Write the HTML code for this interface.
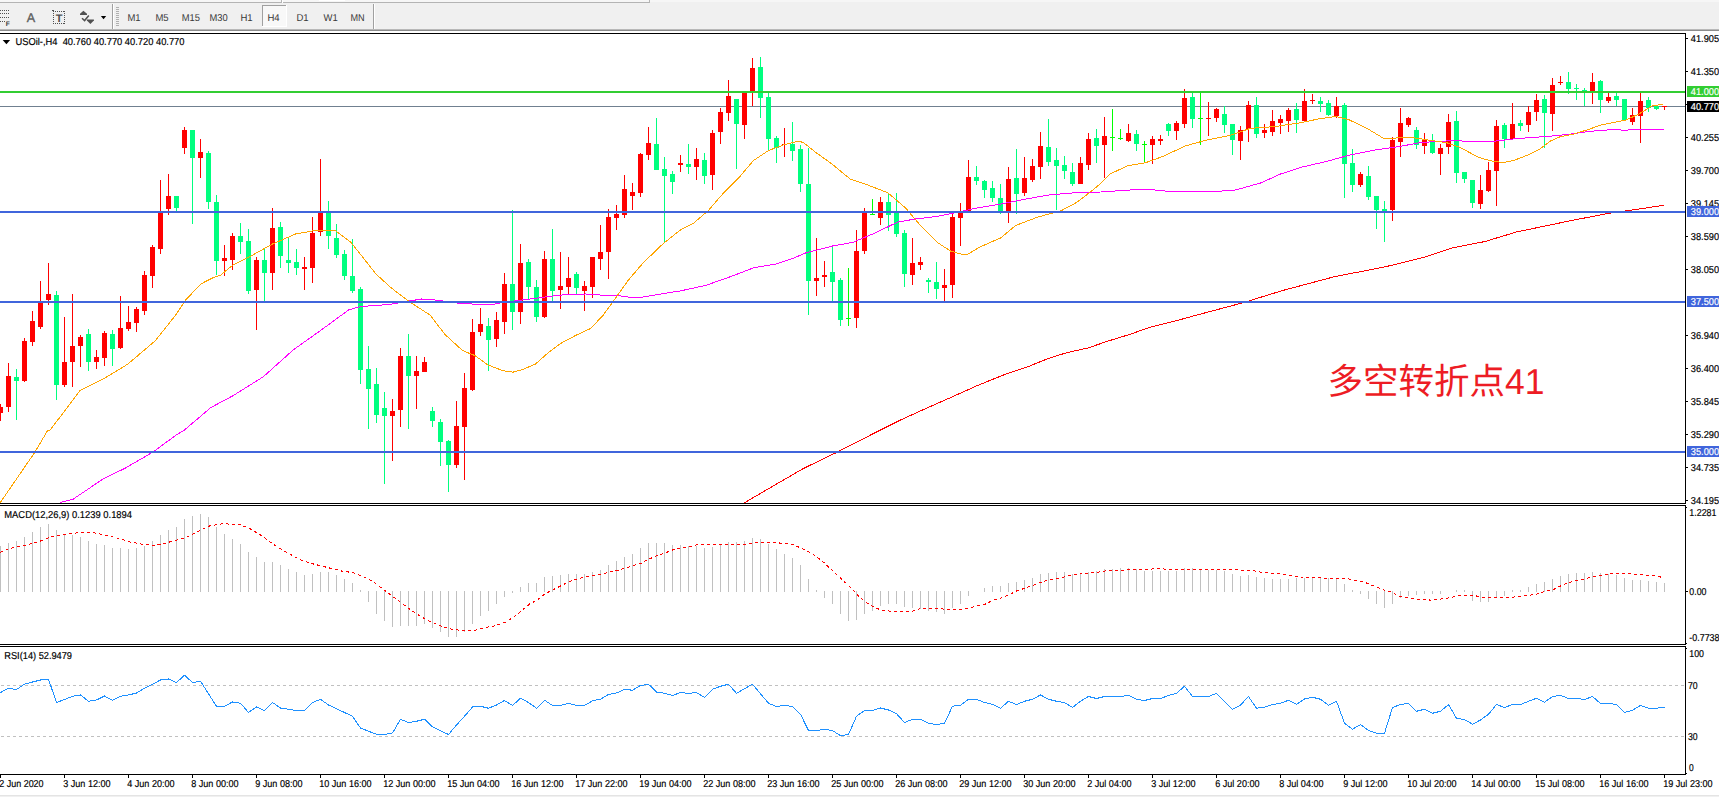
<!DOCTYPE html>
<html><head><meta charset="utf-8"><title>USOil H4</title>
<style>html,body{margin:0;padding:0;background:#fff;overflow:hidden}svg{display:block}</style></head>
<body>
<svg width="1719" height="797" viewBox="0 0 1719 797" font-family='"Liberation Sans","Noto Sans CJK SC",sans-serif' shape-rendering="crispEdges" text-rendering="geometricPrecision">
<rect x="0" y="0" width="1719" height="797" fill="#fff"/>
<rect x="0" y="0" width="1719" height="31" fill="#f0f0f0"/>
<rect x="0" y="0" width="1719" height="2" fill="#f6f6f6"/>
<rect x="0" y="2" width="650" height="1" fill="#b4b4b4"/>
<rect x="281" y="0" width="1" height="3" fill="#b4b4b4"/>
<rect x="282" y="0" width="1" height="3" fill="#fff"/>
<rect x="649" y="0" width="1" height="3" fill="#b4b4b4"/>
<rect x="319" y="0" width="26" height="1" fill="#fff"/>
<rect x="0" y="29" width="1719" height="1" fill="#b8b8b8"/>
<rect x="0" y="30" width="1719" height="1" fill="#8c8c8c"/>
<rect x="0" y="31" width="1719" height="2" fill="#fff"/>
<g id="tb-icons" shape-rendering="auto">
</g>
<rect x="0" y="10" width="1" height="1" fill="#505050"/>
<rect x="2" y="10" width="1" height="1" fill="#505050"/>
<rect x="4" y="10" width="1" height="1" fill="#505050"/>
<rect x="6" y="10" width="1" height="1" fill="#505050"/>
<rect x="8" y="10" width="1" height="1" fill="#505050"/>
<rect x="0" y="13" width="1" height="1" fill="#505050"/>
<rect x="2" y="13" width="1" height="1" fill="#505050"/>
<rect x="4" y="13" width="1" height="1" fill="#505050"/>
<rect x="6" y="13" width="1" height="1" fill="#505050"/>
<rect x="8" y="13" width="1" height="1" fill="#505050"/>
<rect x="0" y="17" width="1" height="1" fill="#505050"/>
<rect x="2" y="17" width="1" height="1" fill="#505050"/>
<rect x="4" y="17" width="1" height="1" fill="#505050"/>
<rect x="6" y="17" width="1" height="1" fill="#505050"/>
<rect x="8" y="17" width="1" height="1" fill="#505050"/>
<rect x="0" y="21" width="1" height="1" fill="#505050"/>
<rect x="2" y="21" width="1" height="1" fill="#505050"/>
<rect x="4" y="21" width="1" height="1" fill="#505050"/>
<rect x="53" y="11" width="1" height="1" fill="#505050"/>
<rect x="53" y="23" width="1" height="1" fill="#505050"/>
<rect x="55" y="11" width="1" height="1" fill="#505050"/>
<rect x="55" y="23" width="1" height="1" fill="#505050"/>
<rect x="57" y="11" width="1" height="1" fill="#505050"/>
<rect x="57" y="23" width="1" height="1" fill="#505050"/>
<rect x="59" y="11" width="1" height="1" fill="#505050"/>
<rect x="59" y="23" width="1" height="1" fill="#505050"/>
<rect x="61" y="11" width="1" height="1" fill="#505050"/>
<rect x="61" y="23" width="1" height="1" fill="#505050"/>
<rect x="63" y="11" width="1" height="1" fill="#505050"/>
<rect x="63" y="23" width="1" height="1" fill="#505050"/>
<rect x="53" y="11" width="1" height="1" fill="#505050"/>
<rect x="64" y="11" width="1" height="1" fill="#505050"/>
<rect x="53" y="13" width="1" height="1" fill="#505050"/>
<rect x="64" y="13" width="1" height="1" fill="#505050"/>
<rect x="53" y="15" width="1" height="1" fill="#505050"/>
<rect x="64" y="15" width="1" height="1" fill="#505050"/>
<rect x="53" y="17" width="1" height="1" fill="#505050"/>
<rect x="64" y="17" width="1" height="1" fill="#505050"/>
<rect x="53" y="19" width="1" height="1" fill="#505050"/>
<rect x="64" y="19" width="1" height="1" fill="#505050"/>
<rect x="53" y="21" width="1" height="1" fill="#505050"/>
<rect x="64" y="21" width="1" height="1" fill="#505050"/>
<rect x="53" y="23" width="1" height="1" fill="#505050"/>
<rect x="64" y="23" width="1" height="1" fill="#505050"/>
<rect x="52" y="10" width="2" height="1" fill="#505050"/>
<g shape-rendering="auto">
<text x="5.7" y="25.9" font-size="6.6" fill="#404040" text-anchor="start" font-weight="bold">F</text>
<text x="26.7" y="22" font-size="12.6" fill="#606060" text-anchor="start" stroke="#606060" stroke-width="0.35">A</text>
<text x="59" y="22" font-size="11" fill="#505050" text-anchor="middle" font-weight="bold">T</text>
<path d="M83.4 10.7 L87 13.8 L87 15 L80 15 L80 13.8 Z" fill="#505050"/>
<path d="M82 18.2 L84.6 20.6 L88.8 15.5" fill="none" stroke="#505050" stroke-width="1.5"/>
<path d="M86.9 19.6 L93.9 19.6 L93.9 20.6 L90.4 24.1 L86.9 20.6 Z" fill="#505050"/>
<path d="M100.9 16.1 L106.2 16.1 L103.55 19.2 Z" fill="#000"/>
</g>
<rect x="112" y="4" width="1" height="25" fill="#a0a0a0"/>
<rect x="113" y="4" width="1" height="25" fill="#fff"/>
<rect x="116" y="7" width="3" height="1" fill="#b0b0b0"/>
<rect x="116" y="9" width="3" height="1" fill="#b0b0b0"/>
<rect x="116" y="11" width="3" height="1" fill="#b0b0b0"/>
<rect x="116" y="13" width="3" height="1" fill="#b0b0b0"/>
<rect x="116" y="15" width="3" height="1" fill="#b0b0b0"/>
<rect x="116" y="17" width="3" height="1" fill="#b0b0b0"/>
<rect x="116" y="19" width="3" height="1" fill="#b0b0b0"/>
<rect x="116" y="21" width="3" height="1" fill="#b0b0b0"/>
<rect x="116" y="23" width="3" height="1" fill="#b0b0b0"/>
<rect x="116" y="25" width="3" height="1" fill="#b0b0b0"/>
<rect x="262" y="5" width="25" height="22" fill="#f8f8f8"/>
<rect x="262" y="5" width="25" height="1" fill="#a0a0a0"/>
<rect x="262" y="5" width="1" height="22" fill="#a0a0a0"/>
<rect x="286" y="5" width="1" height="22" fill="#fff"/>
<rect x="262" y="26" width="25" height="1" fill="#fff"/>
<g shape-rendering="auto">
<text x="127.4" y="21" font-size="10" fill="#383838" text-anchor="start" textLength="13.2" lengthAdjust="spacingAndGlyphs" xml:space="preserve" stroke="#383838" stroke-width="0">M1</text>
<text x="155.4" y="21" font-size="10" fill="#383838" text-anchor="start" textLength="13.2" lengthAdjust="spacingAndGlyphs" xml:space="preserve" stroke="#383838" stroke-width="0">M5</text>
<text x="181.8" y="21" font-size="10" fill="#383838" text-anchor="start" textLength="18.2" lengthAdjust="spacingAndGlyphs" xml:space="preserve" stroke="#383838" stroke-width="0">M15</text>
<text x="209.4" y="21" font-size="10" fill="#383838" text-anchor="start" textLength="18.2" lengthAdjust="spacingAndGlyphs" xml:space="preserve" stroke="#383838" stroke-width="0">M30</text>
<text x="240.4" y="21" font-size="10" fill="#383838" text-anchor="start" textLength="12.2" lengthAdjust="spacingAndGlyphs" xml:space="preserve" stroke="#383838" stroke-width="0">H1</text>
<text x="267.4" y="21" font-size="10" fill="#383838" text-anchor="start" textLength="12.2" lengthAdjust="spacingAndGlyphs" xml:space="preserve" stroke="#383838" stroke-width="0">H4</text>
<text x="296.4" y="21" font-size="10" fill="#383838" text-anchor="start" textLength="12.2" lengthAdjust="spacingAndGlyphs" xml:space="preserve" stroke="#383838" stroke-width="0">D1</text>
<text x="323.6" y="21" font-size="10" fill="#383838" text-anchor="start" textLength="14.2" lengthAdjust="spacingAndGlyphs" xml:space="preserve" stroke="#383838" stroke-width="0">W1</text>
<text x="350.4" y="21" font-size="10" fill="#383838" text-anchor="start" textLength="14.2" lengthAdjust="spacingAndGlyphs" xml:space="preserve" stroke="#383838" stroke-width="0">MN</text>
</g>
<rect x="373" y="4" width="1" height="25" fill="#a0a0a0"/>
<rect x="374" y="4" width="1" height="25" fill="#fff"/>
<rect x="0" y="33" width="1686" height="1" fill="#000"/>
<rect x="1685" y="33" width="1" height="471" fill="#000"/>
<rect x="1685" y="505" width="1" height="140" fill="#000"/>
<rect x="1685" y="646" width="1" height="129" fill="#000"/>
<rect x="0" y="503" width="1686" height="1" fill="#000"/>
<rect x="0" y="505" width="1686" height="1" fill="#000"/>
<rect x="0" y="644" width="1686" height="1" fill="#000"/>
<rect x="0" y="646" width="1686" height="1" fill="#000"/>
<rect x="1686" y="507" width="1" height="1" fill="#000"/>
<rect x="1686" y="648" width="1" height="1" fill="#000"/>
<rect x="1686" y="643" width="1" height="1" fill="#000"/>
<rect x="0" y="774" width="1686" height="1" fill="#000"/>
<rect x="0" y="795" width="1719" height="1" fill="#e4e4e4"/>
<rect x="0" y="796" width="1719" height="1" fill="#f0f0f0"/>
<rect x="0" y="106" width="1685" height="1" fill="#708090"/>
<g id="candles">
<rect x="0" y="404" width="1" height="17" fill="#ff0000"/>
<rect x="-2" y="407" width="5" height="6" fill="#ff0000"/>
<rect x="8" y="363" width="1" height="49" fill="#ff0000"/>
<rect x="6" y="376" width="5" height="31" fill="#ff0000"/>
<rect x="16" y="369" width="1" height="51" fill="#00ff7f"/>
<rect x="14" y="377" width="5" height="4" fill="#00ff7f"/>
<rect x="24" y="338" width="1" height="44" fill="#ff0000"/>
<rect x="22" y="341" width="5" height="40" fill="#ff0000"/>
<rect x="32" y="311" width="1" height="35" fill="#ff0000"/>
<rect x="30" y="321" width="5" height="21" fill="#ff0000"/>
<rect x="40" y="281" width="1" height="48" fill="#ff0000"/>
<rect x="38" y="303" width="5" height="24" fill="#ff0000"/>
<rect x="48" y="263" width="1" height="42" fill="#ff0000"/>
<rect x="46" y="294" width="5" height="6" fill="#ff0000"/>
<rect x="56" y="291" width="1" height="109" fill="#00ff7f"/>
<rect x="54" y="295" width="5" height="90" fill="#00ff7f"/>
<rect x="64" y="317" width="1" height="70" fill="#ff0000"/>
<rect x="62" y="362" width="5" height="23" fill="#ff0000"/>
<rect x="72" y="294" width="1" height="93" fill="#ff0000"/>
<rect x="70" y="346" width="5" height="16" fill="#ff0000"/>
<rect x="80" y="335" width="1" height="32" fill="#ff0000"/>
<rect x="78" y="337" width="5" height="9" fill="#ff0000"/>
<rect x="88" y="329" width="1" height="42" fill="#00ff7f"/>
<rect x="86" y="334" width="5" height="28" fill="#00ff7f"/>
<rect x="96" y="350" width="1" height="19" fill="#ff0000"/>
<rect x="94" y="357" width="5" height="5" fill="#ff0000"/>
<rect x="104" y="331" width="1" height="35" fill="#ff0000"/>
<rect x="102" y="333" width="5" height="25" fill="#ff0000"/>
<rect x="112" y="330" width="1" height="36" fill="#00ff7f"/>
<rect x="110" y="334" width="5" height="15" fill="#00ff7f"/>
<rect x="120" y="296" width="1" height="53" fill="#ff0000"/>
<rect x="118" y="328" width="5" height="20" fill="#ff0000"/>
<rect x="128" y="306" width="1" height="25" fill="#ff0000"/>
<rect x="126" y="322" width="5" height="7" fill="#ff0000"/>
<rect x="136" y="307" width="1" height="25" fill="#ff0000"/>
<rect x="134" y="309" width="5" height="14" fill="#ff0000"/>
<rect x="144" y="271" width="1" height="44" fill="#ff0000"/>
<rect x="142" y="275" width="5" height="36" fill="#ff0000"/>
<rect x="152" y="245" width="1" height="43" fill="#ff0000"/>
<rect x="150" y="247" width="5" height="29" fill="#ff0000"/>
<rect x="160" y="180" width="1" height="74" fill="#ff0000"/>
<rect x="158" y="212" width="5" height="37" fill="#ff0000"/>
<rect x="168" y="174" width="1" height="41" fill="#ff0000"/>
<rect x="166" y="196" width="5" height="13" fill="#ff0000"/>
<rect x="176" y="196" width="1" height="15" fill="#00ff7f"/>
<rect x="174" y="196" width="5" height="12" fill="#00ff7f"/>
<rect x="184" y="127" width="1" height="27" fill="#ff0000"/>
<rect x="182" y="130" width="5" height="18" fill="#ff0000"/>
<rect x="192" y="130" width="1" height="94" fill="#00ff7f"/>
<rect x="190" y="130" width="5" height="28" fill="#00ff7f"/>
<rect x="200" y="139" width="1" height="39" fill="#ff0000"/>
<rect x="198" y="152" width="5" height="6" fill="#ff0000"/>
<rect x="208" y="151" width="1" height="58" fill="#00ff7f"/>
<rect x="206" y="153" width="5" height="49" fill="#00ff7f"/>
<rect x="216" y="195" width="1" height="80" fill="#00ff7f"/>
<rect x="214" y="202" width="5" height="59" fill="#00ff7f"/>
<rect x="224" y="245" width="1" height="31" fill="#ff0000"/>
<rect x="222" y="258" width="5" height="3" fill="#ff0000"/>
<rect x="232" y="233" width="1" height="37" fill="#ff0000"/>
<rect x="230" y="236" width="5" height="24" fill="#ff0000"/>
<rect x="240" y="223" width="1" height="31" fill="#00ff7f"/>
<rect x="238" y="236" width="5" height="6" fill="#00ff7f"/>
<rect x="248" y="229" width="1" height="65" fill="#00ff7f"/>
<rect x="246" y="241" width="5" height="50" fill="#00ff7f"/>
<rect x="256" y="257" width="1" height="73" fill="#ff0000"/>
<rect x="254" y="260" width="5" height="30" fill="#ff0000"/>
<rect x="264" y="249" width="1" height="52" fill="#00ff7f"/>
<rect x="262" y="260" width="5" height="13" fill="#00ff7f"/>
<rect x="272" y="208" width="1" height="82" fill="#ff0000"/>
<rect x="270" y="228" width="5" height="45" fill="#ff0000"/>
<rect x="280" y="222" width="1" height="46" fill="#00ff7f"/>
<rect x="278" y="227" width="5" height="29" fill="#00ff7f"/>
<rect x="288" y="238" width="1" height="35" fill="#00ff7f"/>
<rect x="286" y="260" width="5" height="3" fill="#00ff7f"/>
<rect x="296" y="249" width="1" height="26" fill="#00ff7f"/>
<rect x="294" y="262" width="5" height="6" fill="#00ff7f"/>
<rect x="304" y="257" width="1" height="33" fill="#ff0000"/>
<rect x="302" y="267" width="5" height="2" fill="#ff0000"/>
<rect x="312" y="217" width="1" height="66" fill="#ff0000"/>
<rect x="310" y="233" width="5" height="35" fill="#ff0000"/>
<rect x="320" y="159" width="1" height="77" fill="#ff0000"/>
<rect x="318" y="213" width="5" height="19" fill="#ff0000"/>
<rect x="328" y="201" width="1" height="48" fill="#00ff7f"/>
<rect x="326" y="212" width="5" height="24" fill="#00ff7f"/>
<rect x="336" y="224" width="1" height="34" fill="#00ff7f"/>
<rect x="334" y="238" width="5" height="17" fill="#00ff7f"/>
<rect x="344" y="250" width="1" height="30" fill="#00ff7f"/>
<rect x="342" y="254" width="5" height="22" fill="#00ff7f"/>
<rect x="352" y="239" width="1" height="54" fill="#00ff7f"/>
<rect x="350" y="276" width="5" height="15" fill="#00ff7f"/>
<rect x="360" y="287" width="1" height="97" fill="#00ff7f"/>
<rect x="358" y="289" width="5" height="81" fill="#00ff7f"/>
<rect x="368" y="346" width="1" height="83" fill="#00ff7f"/>
<rect x="366" y="369" width="5" height="20" fill="#00ff7f"/>
<rect x="376" y="368" width="1" height="55" fill="#00ff7f"/>
<rect x="374" y="384" width="5" height="31" fill="#00ff7f"/>
<rect x="384" y="392" width="1" height="92" fill="#00ff7f"/>
<rect x="382" y="408" width="5" height="8" fill="#00ff7f"/>
<rect x="392" y="399" width="1" height="62" fill="#ff0000"/>
<rect x="390" y="411" width="5" height="5" fill="#ff0000"/>
<rect x="400" y="348" width="1" height="79" fill="#ff0000"/>
<rect x="398" y="356" width="5" height="54" fill="#ff0000"/>
<rect x="408" y="334" width="1" height="95" fill="#00ff7f"/>
<rect x="406" y="356" width="5" height="20" fill="#00ff7f"/>
<rect x="416" y="356" width="1" height="53" fill="#ff0000"/>
<rect x="414" y="371" width="5" height="5" fill="#ff0000"/>
<rect x="424" y="357" width="1" height="15" fill="#ff0000"/>
<rect x="422" y="362" width="5" height="10" fill="#ff0000"/>
<rect x="432" y="407" width="1" height="20" fill="#00ff7f"/>
<rect x="430" y="411" width="5" height="10" fill="#00ff7f"/>
<rect x="440" y="419" width="1" height="47" fill="#00ff7f"/>
<rect x="438" y="422" width="5" height="20" fill="#00ff7f"/>
<rect x="448" y="440" width="1" height="52" fill="#00ff7f"/>
<rect x="446" y="441" width="5" height="24" fill="#00ff7f"/>
<rect x="456" y="401" width="1" height="67" fill="#ff0000"/>
<rect x="454" y="426" width="5" height="39" fill="#ff0000"/>
<rect x="464" y="373" width="1" height="107" fill="#ff0000"/>
<rect x="462" y="388" width="5" height="39" fill="#ff0000"/>
<rect x="472" y="319" width="1" height="72" fill="#ff0000"/>
<rect x="470" y="332" width="5" height="58" fill="#ff0000"/>
<rect x="480" y="308" width="1" height="28" fill="#ff0000"/>
<rect x="478" y="324" width="5" height="8" fill="#ff0000"/>
<rect x="488" y="318" width="1" height="53" fill="#00ff7f"/>
<rect x="486" y="326" width="5" height="14" fill="#00ff7f"/>
<rect x="496" y="312" width="1" height="35" fill="#ff0000"/>
<rect x="494" y="320" width="5" height="19" fill="#ff0000"/>
<rect x="504" y="273" width="1" height="61" fill="#ff0000"/>
<rect x="502" y="284" width="5" height="38" fill="#ff0000"/>
<rect x="512" y="210" width="1" height="120" fill="#00ff7f"/>
<rect x="510" y="284" width="5" height="28" fill="#00ff7f"/>
<rect x="520" y="244" width="1" height="80" fill="#ff0000"/>
<rect x="518" y="263" width="5" height="49" fill="#ff0000"/>
<rect x="528" y="259" width="1" height="41" fill="#00ff7f"/>
<rect x="526" y="262" width="5" height="25" fill="#00ff7f"/>
<rect x="536" y="280" width="1" height="42" fill="#00ff7f"/>
<rect x="534" y="287" width="5" height="30" fill="#00ff7f"/>
<rect x="544" y="251" width="1" height="67" fill="#ff0000"/>
<rect x="542" y="259" width="5" height="58" fill="#ff0000"/>
<rect x="552" y="229" width="1" height="72" fill="#00ff7f"/>
<rect x="550" y="259" width="5" height="32" fill="#00ff7f"/>
<rect x="560" y="252" width="1" height="57" fill="#ff0000"/>
<rect x="558" y="286" width="5" height="4" fill="#ff0000"/>
<rect x="568" y="257" width="1" height="37" fill="#ff0000"/>
<rect x="566" y="278" width="5" height="9" fill="#ff0000"/>
<rect x="576" y="272" width="1" height="22" fill="#00ff7f"/>
<rect x="574" y="274" width="5" height="14" fill="#00ff7f"/>
<rect x="584" y="281" width="1" height="30" fill="#ff0000"/>
<rect x="582" y="286" width="5" height="5" fill="#ff0000"/>
<rect x="592" y="257" width="1" height="41" fill="#ff0000"/>
<rect x="590" y="257" width="5" height="30" fill="#ff0000"/>
<rect x="600" y="225" width="1" height="45" fill="#ff0000"/>
<rect x="598" y="252" width="5" height="7" fill="#ff0000"/>
<rect x="608" y="209" width="1" height="70" fill="#ff0000"/>
<rect x="606" y="217" width="5" height="35" fill="#ff0000"/>
<rect x="616" y="205" width="1" height="25" fill="#ff0000"/>
<rect x="614" y="214" width="5" height="4" fill="#ff0000"/>
<rect x="624" y="175" width="1" height="43" fill="#ff0000"/>
<rect x="622" y="189" width="5" height="26" fill="#ff0000"/>
<rect x="632" y="183" width="1" height="27" fill="#ff0000"/>
<rect x="630" y="192" width="5" height="4" fill="#ff0000"/>
<rect x="640" y="153" width="1" height="44" fill="#ff0000"/>
<rect x="638" y="154" width="5" height="39" fill="#ff0000"/>
<rect x="648" y="127" width="1" height="33" fill="#ff0000"/>
<rect x="646" y="143" width="5" height="12" fill="#ff0000"/>
<rect x="656" y="118" width="1" height="52" fill="#00ff7f"/>
<rect x="654" y="144" width="5" height="26" fill="#00ff7f"/>
<rect x="664" y="157" width="1" height="85" fill="#00ff7f"/>
<rect x="662" y="169" width="5" height="7" fill="#00ff7f"/>
<rect x="672" y="171" width="1" height="23" fill="#00ff7f"/>
<rect x="670" y="174" width="5" height="8" fill="#00ff7f"/>
<rect x="680" y="155" width="1" height="17" fill="#ff0000"/>
<rect x="678" y="163" width="5" height="2" fill="#ff0000"/>
<rect x="688" y="144" width="1" height="30" fill="#00ff7f"/>
<rect x="686" y="164" width="5" height="3" fill="#00ff7f"/>
<rect x="696" y="148" width="1" height="32" fill="#ff0000"/>
<rect x="694" y="159" width="5" height="8" fill="#ff0000"/>
<rect x="704" y="153" width="1" height="31" fill="#00ff7f"/>
<rect x="702" y="160" width="5" height="16" fill="#00ff7f"/>
<rect x="712" y="130" width="1" height="60" fill="#ff0000"/>
<rect x="710" y="133" width="5" height="42" fill="#ff0000"/>
<rect x="720" y="108" width="1" height="36" fill="#ff0000"/>
<rect x="718" y="112" width="5" height="20" fill="#ff0000"/>
<rect x="728" y="80" width="1" height="41" fill="#ff0000"/>
<rect x="726" y="96" width="5" height="17" fill="#ff0000"/>
<rect x="736" y="99" width="1" height="70" fill="#00ff7f"/>
<rect x="734" y="99" width="5" height="25" fill="#00ff7f"/>
<rect x="744" y="92" width="1" height="47" fill="#ff0000"/>
<rect x="742" y="93" width="5" height="32" fill="#ff0000"/>
<rect x="752" y="58" width="1" height="48" fill="#ff0000"/>
<rect x="750" y="68" width="5" height="23" fill="#ff0000"/>
<rect x="760" y="57" width="1" height="61" fill="#00ff7f"/>
<rect x="758" y="67" width="5" height="31" fill="#00ff7f"/>
<rect x="768" y="93" width="1" height="57" fill="#00ff7f"/>
<rect x="766" y="97" width="5" height="42" fill="#00ff7f"/>
<rect x="776" y="136" width="1" height="27" fill="#00ff7f"/>
<rect x="774" y="138" width="5" height="10" fill="#00ff7f"/>
<rect x="784" y="128" width="1" height="29" fill="#ff0000"/>
<rect x="782" y="144" width="5" height="1" fill="#ff0000"/>
<rect x="792" y="122" width="1" height="39" fill="#00ff7f"/>
<rect x="790" y="144" width="5" height="7" fill="#00ff7f"/>
<rect x="800" y="145" width="1" height="47" fill="#00ff7f"/>
<rect x="798" y="149" width="5" height="35" fill="#00ff7f"/>
<rect x="808" y="148" width="1" height="167" fill="#00ff7f"/>
<rect x="806" y="184" width="5" height="97" fill="#00ff7f"/>
<rect x="816" y="238" width="1" height="58" fill="#ff0000"/>
<rect x="814" y="278" width="5" height="3" fill="#ff0000"/>
<rect x="824" y="261" width="1" height="26" fill="#ff0000"/>
<rect x="822" y="275" width="5" height="2" fill="#ff0000"/>
<rect x="832" y="247" width="1" height="56" fill="#00ff7f"/>
<rect x="830" y="272" width="5" height="10" fill="#00ff7f"/>
<rect x="840" y="278" width="1" height="48" fill="#00ff7f"/>
<rect x="838" y="280" width="5" height="40" fill="#00ff7f"/>
<rect x="848" y="268" width="1" height="58" fill="#00ff00"/>
<rect x="846" y="318" width="5" height="1" fill="#00ff00"/>
<rect x="856" y="230" width="1" height="98" fill="#ff0000"/>
<rect x="854" y="251" width="5" height="67" fill="#ff0000"/>
<rect x="864" y="208" width="1" height="46" fill="#ff0000"/>
<rect x="862" y="213" width="5" height="38" fill="#ff0000"/>
<rect x="872" y="199" width="1" height="16" fill="#00ff00"/>
<rect x="870" y="214" width="5" height="1" fill="#00ff00"/>
<rect x="880" y="197" width="1" height="28" fill="#ff0000"/>
<rect x="878" y="202" width="5" height="16" fill="#ff0000"/>
<rect x="888" y="194" width="1" height="37" fill="#00ff7f"/>
<rect x="886" y="202" width="5" height="13" fill="#00ff7f"/>
<rect x="896" y="193" width="1" height="44" fill="#00ff7f"/>
<rect x="894" y="213" width="5" height="21" fill="#00ff7f"/>
<rect x="904" y="230" width="1" height="57" fill="#00ff7f"/>
<rect x="902" y="233" width="5" height="41" fill="#00ff7f"/>
<rect x="912" y="238" width="1" height="47" fill="#ff0000"/>
<rect x="910" y="263" width="5" height="12" fill="#ff0000"/>
<rect x="920" y="257" width="1" height="13" fill="#ff0000"/>
<rect x="918" y="262" width="5" height="3" fill="#ff0000"/>
<rect x="928" y="278" width="1" height="15" fill="#00ff7f"/>
<rect x="926" y="280" width="5" height="2" fill="#00ff7f"/>
<rect x="936" y="262" width="1" height="37" fill="#00ff7f"/>
<rect x="934" y="282" width="5" height="7" fill="#00ff7f"/>
<rect x="944" y="269" width="1" height="32" fill="#ff0000"/>
<rect x="942" y="285" width="5" height="3" fill="#ff0000"/>
<rect x="952" y="212" width="1" height="86" fill="#ff0000"/>
<rect x="950" y="217" width="5" height="68" fill="#ff0000"/>
<rect x="960" y="203" width="1" height="43" fill="#ff0000"/>
<rect x="958" y="213" width="5" height="5" fill="#ff0000"/>
<rect x="968" y="160" width="1" height="52" fill="#ff0000"/>
<rect x="966" y="177" width="5" height="35" fill="#ff0000"/>
<rect x="976" y="166" width="1" height="19" fill="#00ff7f"/>
<rect x="974" y="177" width="5" height="4" fill="#00ff7f"/>
<rect x="984" y="180" width="1" height="18" fill="#00ff7f"/>
<rect x="982" y="181" width="5" height="9" fill="#00ff7f"/>
<rect x="992" y="181" width="1" height="21" fill="#00ff7f"/>
<rect x="990" y="188" width="5" height="10" fill="#00ff7f"/>
<rect x="1000" y="184" width="1" height="30" fill="#00ff7f"/>
<rect x="998" y="198" width="5" height="14" fill="#00ff7f"/>
<rect x="1008" y="167" width="1" height="56" fill="#ff0000"/>
<rect x="1006" y="179" width="5" height="33" fill="#ff0000"/>
<rect x="1016" y="149" width="1" height="65" fill="#00ff7f"/>
<rect x="1014" y="178" width="5" height="16" fill="#00ff7f"/>
<rect x="1024" y="157" width="1" height="39" fill="#ff0000"/>
<rect x="1022" y="178" width="5" height="15" fill="#ff0000"/>
<rect x="1032" y="159" width="1" height="23" fill="#ff0000"/>
<rect x="1030" y="166" width="5" height="14" fill="#ff0000"/>
<rect x="1040" y="132" width="1" height="47" fill="#ff0000"/>
<rect x="1038" y="146" width="5" height="21" fill="#ff0000"/>
<rect x="1048" y="119" width="1" height="47" fill="#00ff7f"/>
<rect x="1046" y="147" width="5" height="15" fill="#00ff7f"/>
<rect x="1056" y="148" width="1" height="62" fill="#00ff7f"/>
<rect x="1054" y="160" width="5" height="6" fill="#00ff7f"/>
<rect x="1064" y="156" width="1" height="23" fill="#00ff7f"/>
<rect x="1062" y="165" width="5" height="6" fill="#00ff7f"/>
<rect x="1072" y="163" width="1" height="23" fill="#00ff7f"/>
<rect x="1070" y="172" width="5" height="12" fill="#00ff7f"/>
<rect x="1080" y="157" width="1" height="27" fill="#ff0000"/>
<rect x="1078" y="163" width="5" height="21" fill="#ff0000"/>
<rect x="1088" y="133" width="1" height="37" fill="#ff0000"/>
<rect x="1086" y="139" width="5" height="26" fill="#ff0000"/>
<rect x="1096" y="129" width="1" height="34" fill="#00ff7f"/>
<rect x="1094" y="138" width="5" height="8" fill="#00ff7f"/>
<rect x="1104" y="117" width="1" height="61" fill="#ff0000"/>
<rect x="1102" y="136" width="5" height="9" fill="#ff0000"/>
<rect x="1112" y="109" width="1" height="42" fill="#00ff00"/>
<rect x="1110" y="137" width="5" height="1" fill="#00ff00"/>
<rect x="1120" y="129" width="1" height="11" fill="#00ff00"/>
<rect x="1118" y="138" width="5" height="1" fill="#00ff00"/>
<rect x="1128" y="124" width="1" height="18" fill="#ff0000"/>
<rect x="1126" y="133" width="5" height="8" fill="#ff0000"/>
<rect x="1136" y="130" width="1" height="21" fill="#00ff7f"/>
<rect x="1134" y="134" width="5" height="10" fill="#00ff7f"/>
<rect x="1144" y="141" width="1" height="21" fill="#00ff00"/>
<rect x="1142" y="144" width="5" height="1" fill="#00ff00"/>
<rect x="1152" y="136" width="1" height="28" fill="#ff0000"/>
<rect x="1150" y="139" width="5" height="6" fill="#ff0000"/>
<rect x="1160" y="135" width="1" height="10" fill="#ff0000"/>
<rect x="1158" y="139" width="5" height="2" fill="#ff0000"/>
<rect x="1168" y="123" width="1" height="13" fill="#00ff7f"/>
<rect x="1166" y="124" width="5" height="7" fill="#00ff7f"/>
<rect x="1176" y="121" width="1" height="19" fill="#ff0000"/>
<rect x="1174" y="123" width="5" height="8" fill="#ff0000"/>
<rect x="1184" y="89" width="1" height="39" fill="#ff0000"/>
<rect x="1182" y="98" width="5" height="26" fill="#ff0000"/>
<rect x="1192" y="92" width="1" height="36" fill="#00ff7f"/>
<rect x="1190" y="97" width="5" height="22" fill="#00ff7f"/>
<rect x="1200" y="92" width="1" height="53" fill="#00ff00"/>
<rect x="1198" y="118" width="5" height="1" fill="#00ff00"/>
<rect x="1208" y="102" width="1" height="34" fill="#ff0000"/>
<rect x="1206" y="118" width="5" height="1" fill="#ff0000"/>
<rect x="1216" y="108" width="1" height="14" fill="#ff0000"/>
<rect x="1214" y="109" width="5" height="9" fill="#ff0000"/>
<rect x="1224" y="106" width="1" height="27" fill="#00ff7f"/>
<rect x="1222" y="114" width="5" height="11" fill="#00ff7f"/>
<rect x="1232" y="124" width="1" height="31" fill="#00ff7f"/>
<rect x="1230" y="124" width="5" height="16" fill="#00ff7f"/>
<rect x="1240" y="126" width="1" height="34" fill="#ff0000"/>
<rect x="1238" y="130" width="5" height="11" fill="#ff0000"/>
<rect x="1248" y="101" width="1" height="41" fill="#ff0000"/>
<rect x="1246" y="105" width="5" height="24" fill="#ff0000"/>
<rect x="1256" y="97" width="1" height="41" fill="#00ff7f"/>
<rect x="1254" y="105" width="5" height="29" fill="#00ff7f"/>
<rect x="1264" y="124" width="1" height="14" fill="#ff0000"/>
<rect x="1262" y="130" width="5" height="3" fill="#ff0000"/>
<rect x="1272" y="110" width="1" height="26" fill="#ff0000"/>
<rect x="1270" y="121" width="5" height="11" fill="#ff0000"/>
<rect x="1280" y="115" width="1" height="19" fill="#ff0000"/>
<rect x="1278" y="119" width="5" height="4" fill="#ff0000"/>
<rect x="1288" y="108" width="1" height="24" fill="#ff0000"/>
<rect x="1286" y="110" width="5" height="11" fill="#ff0000"/>
<rect x="1296" y="103" width="1" height="30" fill="#00ff7f"/>
<rect x="1294" y="109" width="5" height="11" fill="#00ff7f"/>
<rect x="1304" y="89" width="1" height="33" fill="#ff0000"/>
<rect x="1302" y="101" width="5" height="20" fill="#ff0000"/>
<rect x="1312" y="94" width="1" height="10" fill="#ff0000"/>
<rect x="1310" y="100" width="5" height="1" fill="#ff0000"/>
<rect x="1320" y="97" width="1" height="15" fill="#00ff7f"/>
<rect x="1318" y="101" width="5" height="3" fill="#00ff7f"/>
<rect x="1328" y="100" width="1" height="16" fill="#00ff7f"/>
<rect x="1326" y="103" width="5" height="12" fill="#00ff7f"/>
<rect x="1336" y="97" width="1" height="21" fill="#ff0000"/>
<rect x="1334" y="106" width="5" height="10" fill="#ff0000"/>
<rect x="1344" y="103" width="1" height="95" fill="#00ff7f"/>
<rect x="1342" y="105" width="5" height="59" fill="#00ff7f"/>
<rect x="1352" y="149" width="1" height="43" fill="#00ff7f"/>
<rect x="1350" y="163" width="5" height="22" fill="#00ff7f"/>
<rect x="1360" y="172" width="1" height="15" fill="#ff0000"/>
<rect x="1358" y="174" width="5" height="11" fill="#ff0000"/>
<rect x="1368" y="166" width="1" height="34" fill="#00ff7f"/>
<rect x="1366" y="176" width="5" height="21" fill="#00ff7f"/>
<rect x="1376" y="196" width="1" height="33" fill="#00ff7f"/>
<rect x="1374" y="196" width="5" height="14" fill="#00ff7f"/>
<rect x="1384" y="201" width="1" height="41" fill="#00ff7f"/>
<rect x="1382" y="209" width="5" height="2" fill="#00ff7f"/>
<rect x="1392" y="137" width="1" height="84" fill="#ff0000"/>
<rect x="1390" y="140" width="5" height="70" fill="#ff0000"/>
<rect x="1400" y="108" width="1" height="49" fill="#ff0000"/>
<rect x="1398" y="123" width="5" height="19" fill="#ff0000"/>
<rect x="1408" y="117" width="1" height="10" fill="#ff0000"/>
<rect x="1406" y="118" width="5" height="7" fill="#ff0000"/>
<rect x="1416" y="127" width="1" height="22" fill="#00ff7f"/>
<rect x="1414" y="130" width="5" height="15" fill="#00ff7f"/>
<rect x="1424" y="133" width="1" height="21" fill="#ff0000"/>
<rect x="1422" y="140" width="5" height="6" fill="#ff0000"/>
<rect x="1432" y="134" width="1" height="20" fill="#00ff7f"/>
<rect x="1430" y="140" width="5" height="13" fill="#00ff7f"/>
<rect x="1440" y="144" width="1" height="31" fill="#ff0000"/>
<rect x="1438" y="148" width="5" height="6" fill="#ff0000"/>
<rect x="1448" y="114" width="1" height="40" fill="#ff0000"/>
<rect x="1446" y="122" width="5" height="25" fill="#ff0000"/>
<rect x="1456" y="111" width="1" height="72" fill="#00ff7f"/>
<rect x="1454" y="121" width="5" height="52" fill="#00ff7f"/>
<rect x="1464" y="172" width="1" height="11" fill="#00ff7f"/>
<rect x="1462" y="172" width="5" height="7" fill="#00ff7f"/>
<rect x="1472" y="180" width="1" height="28" fill="#00ff7f"/>
<rect x="1470" y="180" width="5" height="23" fill="#00ff7f"/>
<rect x="1480" y="175" width="1" height="34" fill="#ff0000"/>
<rect x="1478" y="190" width="5" height="14" fill="#ff0000"/>
<rect x="1488" y="162" width="1" height="30" fill="#ff0000"/>
<rect x="1486" y="170" width="5" height="21" fill="#ff0000"/>
<rect x="1496" y="120" width="1" height="86" fill="#ff0000"/>
<rect x="1494" y="126" width="5" height="45" fill="#ff0000"/>
<rect x="1504" y="123" width="1" height="25" fill="#00ff7f"/>
<rect x="1502" y="125" width="5" height="14" fill="#00ff7f"/>
<rect x="1512" y="103" width="1" height="36" fill="#ff0000"/>
<rect x="1510" y="124" width="5" height="15" fill="#ff0000"/>
<rect x="1520" y="120" width="1" height="11" fill="#00ff7f"/>
<rect x="1518" y="123" width="5" height="3" fill="#00ff7f"/>
<rect x="1528" y="106" width="1" height="26" fill="#ff0000"/>
<rect x="1526" y="112" width="5" height="13" fill="#ff0000"/>
<rect x="1536" y="94" width="1" height="27" fill="#ff0000"/>
<rect x="1534" y="100" width="5" height="12" fill="#ff0000"/>
<rect x="1544" y="95" width="1" height="53" fill="#00ff7f"/>
<rect x="1542" y="99" width="5" height="14" fill="#00ff7f"/>
<rect x="1552" y="78" width="1" height="53" fill="#ff0000"/>
<rect x="1550" y="85" width="5" height="29" fill="#ff0000"/>
<rect x="1560" y="76" width="1" height="9" fill="#ff0000"/>
<rect x="1558" y="82" width="5" height="1" fill="#ff0000"/>
<rect x="1568" y="72" width="1" height="22" fill="#00ff7f"/>
<rect x="1566" y="82" width="5" height="7" fill="#00ff7f"/>
<rect x="1576" y="84" width="1" height="16" fill="#00ff7f"/>
<rect x="1574" y="88" width="5" height="1" fill="#00ff7f"/>
<rect x="1584" y="88" width="1" height="18" fill="#00ff7f"/>
<rect x="1582" y="90" width="5" height="1" fill="#00ff7f"/>
<rect x="1592" y="73" width="1" height="31" fill="#ff0000"/>
<rect x="1590" y="82" width="5" height="9" fill="#ff0000"/>
<rect x="1600" y="80" width="1" height="33" fill="#00ff7f"/>
<rect x="1598" y="81" width="5" height="19" fill="#00ff7f"/>
<rect x="1608" y="93" width="1" height="10" fill="#ff0000"/>
<rect x="1606" y="97" width="5" height="4" fill="#ff0000"/>
<rect x="1616" y="93" width="1" height="13" fill="#00ff7f"/>
<rect x="1614" y="96" width="5" height="4" fill="#00ff7f"/>
<rect x="1624" y="99" width="1" height="21" fill="#00ff7f"/>
<rect x="1622" y="99" width="5" height="21" fill="#00ff7f"/>
<rect x="1632" y="108" width="1" height="17" fill="#ff0000"/>
<rect x="1630" y="115" width="5" height="7" fill="#ff0000"/>
<rect x="1640" y="93" width="1" height="50" fill="#ff0000"/>
<rect x="1638" y="101" width="5" height="15" fill="#ff0000"/>
<rect x="1648" y="97" width="1" height="15" fill="#00ff7f"/>
<rect x="1646" y="100" width="5" height="8" fill="#00ff7f"/>
<rect x="1656" y="106" width="1" height="4" fill="#00ff7f"/>
<rect x="1654" y="106" width="5" height="3" fill="#00ff7f"/>
<rect x="1664" y="106" width="1" height="4" fill="#ff0000"/>
<rect x="1662" y="106" width="5" height="1" fill="#ff0000"/>
</g>
<polyline points="744,503 769,488.4 803.2,468.6 837.5,452 871.8,434.4 900.7,419.9 927,408 950.8,397.5 977.2,385.6 1003.5,375 1029.9,365.9 1048.3,358.5 1066.7,352.7 1087.8,348 1108.9,340.8 1130,334.3 1151,326.9 1176.3,320.7 1200,314.2 1242.8,302.8 1282.7,290.5 1334,276.8 1385.3,266.8 1425.2,257 1450.9,248.3 1485,241.5 1516.4,232 1570.6,220.7 1610.5,213 1627.6,210.7 1663.8,205.3" fill="none" stroke="#ff0000" stroke-width="1" />
<polyline points="60,502.6 72.8,499.4 103,479 125.5,468 153,452 175.7,435.4 184.4,430 210.8,407.6 233,395.7 263.5,376.6 293.6,349.6 321,330.2 348.8,309.8 361,306.5 389,304.5 406.5,301.5 421.6,299 430,299.5 442.5,300.9 460,303.4 490,304.9 502.8,302.4 530.4,299 548,296.6 565.5,294.6 585.6,294 605.6,295.4 620.7,296 630.7,297.4 643.3,297 663.3,293.6 680.9,290.8 706,285.3 731,276.5 753.6,267.8 776.2,264 793.8,258 806.3,252.7 815,250.5 832.6,246 852.7,242.4 875.3,232.9 897.8,222 915.4,219 935.5,216.6 955.5,212.8 975.6,208.3 1000.7,204 1025.8,199 1050.9,194.7 1076,192.7 1101,192 1122.6,190.5 1145,189 1165,191 1190,192 1213,191.7 1235.5,190 1260.6,183 1280.6,174 1300.7,167.4 1325.8,161.6 1348.4,155.4 1376,149.8 1401,146.3 1418.8,142.8 1437.6,141.3 1456.5,140.6 1469.6,141.5 1494,141.3 1513,139 1531.8,137.5 1550.6,136.2 1569.4,134.3 1588,131.5 1607,130 1620,129.6 1623,130.6 1631.5,129.6 1663.5,129.6" fill="none" stroke="#ff00ff" stroke-width="1" />
<polyline points="0,503 35,452 47.7,430.4 50.2,430 80.3,390.2 105,378 128,364 155.6,340.4 175.7,315 185.7,300 200.7,284 213,277.7 220.8,275 233,265 248,257.6 273,243.8 296,233.8 313.7,230.8 336,231 351,242.5 361,255 376,274 391,287.7 409,301.5 430,315 445,334.5 462.6,350.6 475,355.6 488,365 502.8,370.6 512.8,372.2 522.8,369.4 535.5,364 547.9,353 560.6,343.5 575.5,335.5 590.7,328.4 603,315.4 615.7,297.9 628.2,280.3 643.3,262.7 663.3,243.5 680.9,229.6 693.4,223.4 708.5,210.3 723.5,193 738.6,178 753.6,160.4 768.7,150.4 783.7,144.9 798.8,141 803.8,142.8 816.4,152.9 832,164 850,178.9 865,184 887.8,192.7 905.4,207.8 920.4,225.4 938,242.9 950.5,251 960.6,254 968,254 980.6,246.7 1000.7,237.9 1015.8,225.4 1038,217 1060.9,210.8 1076,202.8 1091,191.5 1100,184 1110,174 1127.6,165.8 1145,162.9 1162.7,156.5 1185.8,145.8 1205.4,140.4 1230.5,135.2 1250.5,128.3 1275.6,126.5 1300.7,122.7 1318.3,119 1335.8,116.5 1348.4,119.5 1366,127.8 1383.5,138.3 1401,137.9 1409,137 1428,140 1447,142.8 1460,147.5 1479,157.5 1490,160.7 1503.5,162.6 1513,160.7 1528,155 1539.3,149.4 1550.6,140.9 1560,136.8 1573,134.3 1588,129.6 1601.4,124.9 1616.4,122 1625.9,120 1639,114 1652,106 1663.5,104" fill="none" stroke="#ffa500" stroke-width="1" />
<rect x="0" y="91" width="1685" height="2" fill="#32cd32"/>
<rect x="0" y="211" width="1685" height="2" fill="#4065dc"/>
<rect x="0" y="301" width="1685" height="2" fill="#4065dc"/>
<rect x="0" y="451" width="1685" height="2" fill="#4065dc"/>
<g shape-rendering="auto">
<text x="1327.5" y="393.8" font-size="36" fill="#ed1c24" text-anchor="start" textLength="217" lengthAdjust="spacingAndGlyphs">多空转折点41</text>
<path d="M2.7 40 L10.1 40 L6.4 44.3 Z" fill="#000"/>
<text x="15.5" y="45" font-size="10" fill="#000" text-anchor="start" textLength="169" lengthAdjust="spacingAndGlyphs" xml:space="preserve" stroke="#000" stroke-width="0.18">USOil-,H4  40.760 40.770 40.720 40.770</text>
</g>
<g shape-rendering="auto">
<rect x="1686" y="38" width="2" height="1" fill="#000"/>
<text x="1690.8" y="42" font-size="10" fill="#000" text-anchor="start" textLength="28.3" lengthAdjust="spacingAndGlyphs" xml:space="preserve" stroke="#000" stroke-width="0.18">41.905</text>
<rect x="1686" y="71" width="2" height="1" fill="#000"/>
<text x="1690.8" y="75" font-size="10" fill="#000" text-anchor="start" textLength="28.3" lengthAdjust="spacingAndGlyphs" xml:space="preserve" stroke="#000" stroke-width="0.18">41.350</text>
<rect x="1686" y="137" width="2" height="1" fill="#000"/>
<text x="1690.8" y="141" font-size="10" fill="#000" text-anchor="start" textLength="28.3" lengthAdjust="spacingAndGlyphs" xml:space="preserve" stroke="#000" stroke-width="0.18">40.255</text>
<rect x="1686" y="170" width="2" height="1" fill="#000"/>
<text x="1690.8" y="174" font-size="10" fill="#000" text-anchor="start" textLength="28.3" lengthAdjust="spacingAndGlyphs" xml:space="preserve" stroke="#000" stroke-width="0.18">39.700</text>
<rect x="1686" y="203" width="2" height="1" fill="#000"/>
<text x="1690.8" y="207" font-size="10" fill="#000" text-anchor="start" textLength="28.3" lengthAdjust="spacingAndGlyphs" xml:space="preserve" stroke="#000" stroke-width="0.18">39.145</text>
<rect x="1686" y="236" width="2" height="1" fill="#000"/>
<text x="1690.8" y="240" font-size="10" fill="#000" text-anchor="start" textLength="28.3" lengthAdjust="spacingAndGlyphs" xml:space="preserve" stroke="#000" stroke-width="0.18">38.590</text>
<rect x="1686" y="269" width="2" height="1" fill="#000"/>
<text x="1690.8" y="273" font-size="10" fill="#000" text-anchor="start" textLength="28.3" lengthAdjust="spacingAndGlyphs" xml:space="preserve" stroke="#000" stroke-width="0.18">38.050</text>
<rect x="1686" y="335" width="2" height="1" fill="#000"/>
<text x="1690.8" y="339" font-size="10" fill="#000" text-anchor="start" textLength="28.3" lengthAdjust="spacingAndGlyphs" xml:space="preserve" stroke="#000" stroke-width="0.18">36.940</text>
<rect x="1686" y="368" width="2" height="1" fill="#000"/>
<text x="1690.8" y="372" font-size="10" fill="#000" text-anchor="start" textLength="28.3" lengthAdjust="spacingAndGlyphs" xml:space="preserve" stroke="#000" stroke-width="0.18">36.400</text>
<rect x="1686" y="401" width="2" height="1" fill="#000"/>
<text x="1690.8" y="405" font-size="10" fill="#000" text-anchor="start" textLength="28.3" lengthAdjust="spacingAndGlyphs" xml:space="preserve" stroke="#000" stroke-width="0.18">35.845</text>
<rect x="1686" y="434" width="2" height="1" fill="#000"/>
<text x="1690.8" y="438" font-size="10" fill="#000" text-anchor="start" textLength="28.3" lengthAdjust="spacingAndGlyphs" xml:space="preserve" stroke="#000" stroke-width="0.18">35.290</text>
<rect x="1686" y="467" width="2" height="1" fill="#000"/>
<text x="1690.8" y="471" font-size="10" fill="#000" text-anchor="start" textLength="28.3" lengthAdjust="spacingAndGlyphs" xml:space="preserve" stroke="#000" stroke-width="0.18">34.735</text>
<rect x="1686" y="500" width="2" height="1" fill="#000"/>
<text x="1690.8" y="504" font-size="10" fill="#000" text-anchor="start" textLength="28.3" lengthAdjust="spacingAndGlyphs" xml:space="preserve" stroke="#000" stroke-width="0.18">34.195</text>
<rect x="1686" y="104" width="2" height="1" fill="#000"/>
<rect x="1687" y="86" width="32" height="11" fill="#32cd32"/>
<text x="1690.8" y="95" font-size="10" fill="#fff" text-anchor="start" textLength="28.3" lengthAdjust="spacingAndGlyphs" xml:space="preserve" stroke="#fff" stroke-width="0.18">41.000</text>
<rect x="1687" y="101" width="32" height="11" fill="#000"/>
<text x="1690.8" y="110" font-size="10" fill="#fff" text-anchor="start" textLength="28.3" lengthAdjust="spacingAndGlyphs" xml:space="preserve" stroke="#fff" stroke-width="0.18">40.770</text>
<rect x="1687" y="206" width="32" height="11" fill="#4065dc"/>
<text x="1690.8" y="215" font-size="10" fill="#fff" text-anchor="start" textLength="28.3" lengthAdjust="spacingAndGlyphs" xml:space="preserve" stroke="#fff" stroke-width="0.18">39.000</text>
<rect x="1687" y="296" width="32" height="11" fill="#4065dc"/>
<text x="1690.8" y="305" font-size="10" fill="#fff" text-anchor="start" textLength="28.3" lengthAdjust="spacingAndGlyphs" xml:space="preserve" stroke="#fff" stroke-width="0.18">37.500</text>
<rect x="1687" y="446" width="32" height="11" fill="#4065dc"/>
<text x="1690.8" y="455" font-size="10" fill="#fff" text-anchor="start" textLength="28.3" lengthAdjust="spacingAndGlyphs" xml:space="preserve" stroke="#fff" stroke-width="0.18">35.000</text>
</g>
<g id="macd">
<rect x="0" y="546" width="1" height="46" fill="#c0c0c0"/>
<rect x="8" y="543" width="1" height="49" fill="#c0c0c0"/>
<rect x="16" y="541" width="1" height="51" fill="#c0c0c0"/>
<rect x="24" y="537" width="1" height="55" fill="#c0c0c0"/>
<rect x="32" y="532" width="1" height="60" fill="#c0c0c0"/>
<rect x="40" y="527" width="1" height="65" fill="#c0c0c0"/>
<rect x="48" y="524" width="1" height="68" fill="#c0c0c0"/>
<rect x="56" y="530" width="1" height="62" fill="#c0c0c0"/>
<rect x="64" y="534" width="1" height="58" fill="#c0c0c0"/>
<rect x="72" y="535" width="1" height="57" fill="#c0c0c0"/>
<rect x="80" y="537" width="1" height="55" fill="#c0c0c0"/>
<rect x="88" y="541" width="1" height="51" fill="#c0c0c0"/>
<rect x="96" y="544" width="1" height="48" fill="#c0c0c0"/>
<rect x="104" y="545" width="1" height="47" fill="#c0c0c0"/>
<rect x="112" y="548" width="1" height="44" fill="#c0c0c0"/>
<rect x="120" y="548" width="1" height="44" fill="#c0c0c0"/>
<rect x="128" y="549" width="1" height="43" fill="#c0c0c0"/>
<rect x="136" y="548" width="1" height="44" fill="#c0c0c0"/>
<rect x="144" y="546" width="1" height="46" fill="#c0c0c0"/>
<rect x="152" y="541" width="1" height="51" fill="#c0c0c0"/>
<rect x="160" y="535" width="1" height="57" fill="#c0c0c0"/>
<rect x="168" y="530" width="1" height="62" fill="#c0c0c0"/>
<rect x="176" y="527" width="1" height="65" fill="#c0c0c0"/>
<rect x="184" y="519" width="1" height="73" fill="#c0c0c0"/>
<rect x="192" y="516" width="1" height="76" fill="#c0c0c0"/>
<rect x="200" y="514" width="1" height="78" fill="#c0c0c0"/>
<rect x="208" y="517" width="1" height="75" fill="#c0c0c0"/>
<rect x="216" y="527" width="1" height="65" fill="#c0c0c0"/>
<rect x="224" y="534" width="1" height="58" fill="#c0c0c0"/>
<rect x="232" y="539" width="1" height="53" fill="#c0c0c0"/>
<rect x="240" y="544" width="1" height="48" fill="#c0c0c0"/>
<rect x="248" y="552" width="1" height="40" fill="#c0c0c0"/>
<rect x="256" y="557" width="1" height="35" fill="#c0c0c0"/>
<rect x="264" y="562" width="1" height="30" fill="#c0c0c0"/>
<rect x="272" y="562" width="1" height="30" fill="#c0c0c0"/>
<rect x="280" y="565" width="1" height="27" fill="#c0c0c0"/>
<rect x="288" y="569" width="1" height="23" fill="#c0c0c0"/>
<rect x="296" y="572" width="1" height="20" fill="#c0c0c0"/>
<rect x="304" y="575" width="1" height="17" fill="#c0c0c0"/>
<rect x="312" y="574" width="1" height="18" fill="#c0c0c0"/>
<rect x="320" y="572" width="1" height="20" fill="#c0c0c0"/>
<rect x="328" y="572" width="1" height="20" fill="#c0c0c0"/>
<rect x="336" y="575" width="1" height="17" fill="#c0c0c0"/>
<rect x="344" y="579" width="1" height="13" fill="#c0c0c0"/>
<rect x="352" y="583" width="1" height="9" fill="#c0c0c0"/>
<rect x="360" y="590" width="1" height="2" fill="#c0c0c0"/>
<rect x="368" y="591" width="1" height="11" fill="#c0c0c0"/>
<rect x="376" y="591" width="1" height="23" fill="#c0c0c0"/>
<rect x="384" y="591" width="1" height="30" fill="#c0c0c0"/>
<rect x="392" y="591" width="1" height="36" fill="#c0c0c0"/>
<rect x="400" y="591" width="1" height="35" fill="#c0c0c0"/>
<rect x="408" y="591" width="1" height="35" fill="#c0c0c0"/>
<rect x="416" y="591" width="1" height="35" fill="#c0c0c0"/>
<rect x="424" y="591" width="1" height="33" fill="#c0c0c0"/>
<rect x="432" y="591" width="1" height="37" fill="#c0c0c0"/>
<rect x="440" y="591" width="1" height="41" fill="#c0c0c0"/>
<rect x="448" y="591" width="1" height="46" fill="#c0c0c0"/>
<rect x="456" y="591" width="1" height="46" fill="#c0c0c0"/>
<rect x="464" y="591" width="1" height="41" fill="#c0c0c0"/>
<rect x="472" y="591" width="1" height="33" fill="#c0c0c0"/>
<rect x="480" y="591" width="1" height="25" fill="#c0c0c0"/>
<rect x="488" y="591" width="1" height="20" fill="#c0c0c0"/>
<rect x="496" y="591" width="1" height="13" fill="#c0c0c0"/>
<rect x="504" y="591" width="1" height="6" fill="#c0c0c0"/>
<rect x="512" y="591" width="1" height="2" fill="#c0c0c0"/>
<rect x="520" y="587" width="1" height="5" fill="#c0c0c0"/>
<rect x="528" y="583" width="1" height="9" fill="#c0c0c0"/>
<rect x="536" y="583" width="1" height="9" fill="#c0c0c0"/>
<rect x="544" y="577" width="1" height="15" fill="#c0c0c0"/>
<rect x="552" y="576" width="1" height="16" fill="#c0c0c0"/>
<rect x="560" y="575" width="1" height="17" fill="#c0c0c0"/>
<rect x="568" y="574" width="1" height="18" fill="#c0c0c0"/>
<rect x="576" y="574" width="1" height="18" fill="#c0c0c0"/>
<rect x="584" y="574" width="1" height="18" fill="#c0c0c0"/>
<rect x="592" y="572" width="1" height="20" fill="#c0c0c0"/>
<rect x="600" y="570" width="1" height="22" fill="#c0c0c0"/>
<rect x="608" y="565" width="1" height="27" fill="#c0c0c0"/>
<rect x="616" y="561" width="1" height="31" fill="#c0c0c0"/>
<rect x="624" y="557" width="1" height="35" fill="#c0c0c0"/>
<rect x="632" y="554" width="1" height="38" fill="#c0c0c0"/>
<rect x="640" y="548" width="1" height="44" fill="#c0c0c0"/>
<rect x="648" y="543" width="1" height="49" fill="#c0c0c0"/>
<rect x="656" y="543" width="1" height="49" fill="#c0c0c0"/>
<rect x="664" y="543" width="1" height="49" fill="#c0c0c0"/>
<rect x="672" y="545" width="1" height="47" fill="#c0c0c0"/>
<rect x="680" y="545" width="1" height="47" fill="#c0c0c0"/>
<rect x="688" y="546" width="1" height="46" fill="#c0c0c0"/>
<rect x="696" y="546" width="1" height="46" fill="#c0c0c0"/>
<rect x="704" y="548" width="1" height="44" fill="#c0c0c0"/>
<rect x="712" y="547" width="1" height="45" fill="#c0c0c0"/>
<rect x="720" y="545" width="1" height="47" fill="#c0c0c0"/>
<rect x="728" y="542" width="1" height="50" fill="#c0c0c0"/>
<rect x="736" y="542" width="1" height="50" fill="#c0c0c0"/>
<rect x="744" y="541" width="1" height="51" fill="#c0c0c0"/>
<rect x="752" y="538" width="1" height="54" fill="#c0c0c0"/>
<rect x="760" y="539" width="1" height="53" fill="#c0c0c0"/>
<rect x="768" y="544" width="1" height="48" fill="#c0c0c0"/>
<rect x="776" y="549" width="1" height="43" fill="#c0c0c0"/>
<rect x="784" y="554" width="1" height="38" fill="#c0c0c0"/>
<rect x="792" y="558" width="1" height="34" fill="#c0c0c0"/>
<rect x="800" y="565" width="1" height="27" fill="#c0c0c0"/>
<rect x="808" y="579" width="1" height="13" fill="#c0c0c0"/>
<rect x="816" y="590" width="1" height="2" fill="#c0c0c0"/>
<rect x="824" y="591" width="1" height="7" fill="#c0c0c0"/>
<rect x="832" y="591" width="1" height="13" fill="#c0c0c0"/>
<rect x="840" y="591" width="1" height="23" fill="#c0c0c0"/>
<rect x="848" y="591" width="1" height="30" fill="#c0c0c0"/>
<rect x="856" y="591" width="1" height="29" fill="#c0c0c0"/>
<rect x="864" y="591" width="1" height="23" fill="#c0c0c0"/>
<rect x="872" y="591" width="1" height="20" fill="#c0c0c0"/>
<rect x="880" y="591" width="1" height="15" fill="#c0c0c0"/>
<rect x="888" y="591" width="1" height="13" fill="#c0c0c0"/>
<rect x="896" y="591" width="1" height="13" fill="#c0c0c0"/>
<rect x="904" y="591" width="1" height="16" fill="#c0c0c0"/>
<rect x="912" y="591" width="1" height="17" fill="#c0c0c0"/>
<rect x="920" y="591" width="1" height="18" fill="#c0c0c0"/>
<rect x="928" y="591" width="1" height="20" fill="#c0c0c0"/>
<rect x="936" y="591" width="1" height="21" fill="#c0c0c0"/>
<rect x="944" y="591" width="1" height="23" fill="#c0c0c0"/>
<rect x="952" y="591" width="1" height="17" fill="#c0c0c0"/>
<rect x="960" y="591" width="1" height="13" fill="#c0c0c0"/>
<rect x="968" y="591" width="1" height="5" fill="#c0c0c0"/>
<rect x="984" y="588" width="1" height="4" fill="#c0c0c0"/>
<rect x="992" y="586" width="1" height="6" fill="#c0c0c0"/>
<rect x="1000" y="586" width="1" height="6" fill="#c0c0c0"/>
<rect x="1008" y="583" width="1" height="9" fill="#c0c0c0"/>
<rect x="1016" y="582" width="1" height="10" fill="#c0c0c0"/>
<rect x="1024" y="580" width="1" height="12" fill="#c0c0c0"/>
<rect x="1032" y="578" width="1" height="14" fill="#c0c0c0"/>
<rect x="1040" y="574" width="1" height="18" fill="#c0c0c0"/>
<rect x="1048" y="573" width="1" height="19" fill="#c0c0c0"/>
<rect x="1056" y="572" width="1" height="20" fill="#c0c0c0"/>
<rect x="1064" y="572" width="1" height="20" fill="#c0c0c0"/>
<rect x="1072" y="574" width="1" height="18" fill="#c0c0c0"/>
<rect x="1080" y="574" width="1" height="18" fill="#c0c0c0"/>
<rect x="1088" y="572" width="1" height="20" fill="#c0c0c0"/>
<rect x="1096" y="571" width="1" height="21" fill="#c0c0c0"/>
<rect x="1104" y="569" width="1" height="23" fill="#c0c0c0"/>
<rect x="1112" y="569" width="1" height="23" fill="#c0c0c0"/>
<rect x="1120" y="568" width="1" height="24" fill="#c0c0c0"/>
<rect x="1128" y="568" width="1" height="24" fill="#c0c0c0"/>
<rect x="1136" y="569" width="1" height="23" fill="#c0c0c0"/>
<rect x="1144" y="571" width="1" height="21" fill="#c0c0c0"/>
<rect x="1152" y="571" width="1" height="21" fill="#c0c0c0"/>
<rect x="1160" y="571" width="1" height="21" fill="#c0c0c0"/>
<rect x="1168" y="571" width="1" height="21" fill="#c0c0c0"/>
<rect x="1176" y="571" width="1" height="21" fill="#c0c0c0"/>
<rect x="1184" y="568" width="1" height="24" fill="#c0c0c0"/>
<rect x="1192" y="568" width="1" height="24" fill="#c0c0c0"/>
<rect x="1200" y="569" width="1" height="23" fill="#c0c0c0"/>
<rect x="1208" y="570" width="1" height="22" fill="#c0c0c0"/>
<rect x="1216" y="570" width="1" height="22" fill="#c0c0c0"/>
<rect x="1224" y="571" width="1" height="21" fill="#c0c0c0"/>
<rect x="1232" y="574" width="1" height="18" fill="#c0c0c0"/>
<rect x="1240" y="576" width="1" height="16" fill="#c0c0c0"/>
<rect x="1248" y="575" width="1" height="17" fill="#c0c0c0"/>
<rect x="1256" y="577" width="1" height="15" fill="#c0c0c0"/>
<rect x="1264" y="578" width="1" height="14" fill="#c0c0c0"/>
<rect x="1272" y="579" width="1" height="13" fill="#c0c0c0"/>
<rect x="1280" y="579" width="1" height="13" fill="#c0c0c0"/>
<rect x="1288" y="579" width="1" height="13" fill="#c0c0c0"/>
<rect x="1296" y="578" width="1" height="14" fill="#c0c0c0"/>
<rect x="1304" y="578" width="1" height="14" fill="#c0c0c0"/>
<rect x="1312" y="577" width="1" height="15" fill="#c0c0c0"/>
<rect x="1320" y="577" width="1" height="15" fill="#c0c0c0"/>
<rect x="1328" y="578" width="1" height="14" fill="#c0c0c0"/>
<rect x="1336" y="579" width="1" height="13" fill="#c0c0c0"/>
<rect x="1344" y="584" width="1" height="8" fill="#c0c0c0"/>
<rect x="1352" y="590" width="1" height="2" fill="#c0c0c0"/>
<rect x="1360" y="591" width="1" height="3" fill="#c0c0c0"/>
<rect x="1368" y="591" width="1" height="8" fill="#c0c0c0"/>
<rect x="1376" y="591" width="1" height="13" fill="#c0c0c0"/>
<rect x="1384" y="591" width="1" height="17" fill="#c0c0c0"/>
<rect x="1392" y="591" width="1" height="13" fill="#c0c0c0"/>
<rect x="1400" y="591" width="1" height="7" fill="#c0c0c0"/>
<rect x="1408" y="591" width="1" height="5" fill="#c0c0c0"/>
<rect x="1416" y="591" width="1" height="4" fill="#c0c0c0"/>
<rect x="1424" y="591" width="1" height="3" fill="#c0c0c0"/>
<rect x="1432" y="591" width="1" height="3" fill="#c0c0c0"/>
<rect x="1440" y="591" width="1" height="3" fill="#c0c0c0"/>
<rect x="1456" y="590" width="1" height="2" fill="#c0c0c0"/>
<rect x="1464" y="590" width="1" height="2" fill="#c0c0c0"/>
<rect x="1472" y="591" width="1" height="10" fill="#c0c0c0"/>
<rect x="1480" y="591" width="1" height="11" fill="#c0c0c0"/>
<rect x="1488" y="591" width="1" height="11" fill="#c0c0c0"/>
<rect x="1496" y="591" width="1" height="7" fill="#c0c0c0"/>
<rect x="1504" y="591" width="1" height="5" fill="#c0c0c0"/>
<rect x="1512" y="590" width="1" height="2" fill="#c0c0c0"/>
<rect x="1520" y="590" width="1" height="2" fill="#c0c0c0"/>
<rect x="1528" y="587" width="1" height="5" fill="#c0c0c0"/>
<rect x="1536" y="584" width="1" height="8" fill="#c0c0c0"/>
<rect x="1544" y="582" width="1" height="10" fill="#c0c0c0"/>
<rect x="1552" y="579" width="1" height="13" fill="#c0c0c0"/>
<rect x="1560" y="576" width="1" height="16" fill="#c0c0c0"/>
<rect x="1568" y="574" width="1" height="18" fill="#c0c0c0"/>
<rect x="1576" y="573" width="1" height="19" fill="#c0c0c0"/>
<rect x="1584" y="573" width="1" height="19" fill="#c0c0c0"/>
<rect x="1592" y="572" width="1" height="20" fill="#c0c0c0"/>
<rect x="1600" y="573" width="1" height="19" fill="#c0c0c0"/>
<rect x="1608" y="574" width="1" height="18" fill="#c0c0c0"/>
<rect x="1616" y="575" width="1" height="17" fill="#c0c0c0"/>
<rect x="1624" y="578" width="1" height="14" fill="#c0c0c0"/>
<rect x="1632" y="580" width="1" height="12" fill="#c0c0c0"/>
<rect x="1640" y="580" width="1" height="12" fill="#c0c0c0"/>
<rect x="1648" y="581" width="1" height="11" fill="#c0c0c0"/>
<rect x="1656" y="582" width="1" height="10" fill="#c0c0c0"/>
<rect x="1664" y="583" width="1" height="9" fill="#c0c0c0"/>
</g>
<polyline points="0,552.5 8.5,548.75 25,545.5 40,541.25 50,537 65,534.25 80,532.5 92.5,532.5 107.5,535.5 120,538.75 130,542 142.5,544.25 152.5,545.5 165,543.25 175,540.5 185,538 192.5,534.25 200,530.5 210,525.75 222.5,523.75 232.5,524.25 241,525 250,528.75 262.5,536.25 272.5,543.75 282.5,550 292.5,555.5 302.5,560.75 312.5,563.75 322.5,566.25 332.5,568.75 342.5,571.25 352.5,572.5 362.5,576.25 372.5,581.25 382.5,588.75 392.5,596.25 402.5,603.75 412.5,611.25 422.5,617.5 430,621.75 432.5,622.5 440,625.75 448.75,628.75 457.5,630 467.5,630.75 476.25,630 485,627.5 495,625.75 505,622.5 515,616.25 522.5,610 530,603.75 537.5,600 545,593.75 552.5,590 560,586.25 568.75,582 577.5,578.75 585,577 592.5,575.75 600,574.5 607.5,572.5 616.25,570.75 625,568.25 632.5,565.75 640,563.75 648.75,559.25 656.25,555.75 665,553 672.5,550 680,548 688.75,546.75 696.25,545 705,544.5 730,544.5 745,544.25 755,543 777.5,542.5 782.5,543.75 792.5,544.25 802.5,548.75 812.5,553.75 822.5,561.25 832.5,570.75 842.5,580 852.5,589.25 860,597.5 865,601.75 871.25,605.5 877.5,608.75 885,610.75 892.5,611.25 912.5,611.25 920,608.75 935,608.25 945,609.25 960,609.25 970,608 977.5,605.75 985,604.25 992.5,600.5 1002.5,597.5 1010,594.25 1017.5,590.5 1025,588.25 1032.5,585.5 1040,582.5 1050,579.5 1060,578 1072.5,575 1085,573.25 1097.5,572.25 1105,571 1120,570.5 1135,569.5 1150,569.25 1160,568.25 1165,569.25 1235,569.25 1240,570.5 1255,571 1262.5,572.5 1275,573.5 1285,574.5 1290,575.75 1296.5,576.25 1304,577.5 1314,577.5 1326.5,578.25 1346.5,578.25 1354,580.5 1364,582 1371.5,585 1379,588 1386.5,591.25 1391.5,591.75 1399,596.25 1406.5,597.5 1416.5,599.25 1426.5,599.25 1431.5,600.5 1439,599.25 1451.5,597.5 1459,595.5 1464,595 1474,595.5 1481.5,597 1496.5,597 1514,597 1526.5,595.75 1536.5,594.25 1544,591.75 1554,589.25 1561.5,585.5 1569,582.5 1576.5,580.5 1584,579.25 1591.5,577 1599,575.75 1606.5,574.25 1614,573.5 1626.5,573.25 1634,574.25 1641.5,574.25 1646.5,575.25 1659,576.25 1664,578.75" fill="none" stroke="#ff0000" stroke-width="1" stroke-dasharray="3 3"/>
<g shape-rendering="auto">
<text x="4.3" y="518" font-size="10" fill="#000" text-anchor="start" textLength="127.7" lengthAdjust="spacingAndGlyphs" xml:space="preserve" stroke="#000" stroke-width="0.18">MACD(12,26,9) 0.1239 0.1894</text>
<text x="1689.3" y="516" font-size="10" fill="#000" text-anchor="start" textLength="27.2" lengthAdjust="spacingAndGlyphs" xml:space="preserve" stroke="#000" stroke-width="0.18">1.2281</text>
<text x="1689.3" y="595" font-size="10" fill="#000" text-anchor="start" textLength="17.2" lengthAdjust="spacingAndGlyphs" xml:space="preserve" stroke="#000" stroke-width="0.18">0.00</text>
<text x="1689.3" y="641" font-size="10" fill="#000" text-anchor="start" textLength="30.2" lengthAdjust="spacingAndGlyphs" xml:space="preserve" stroke="#000" stroke-width="0.18">-0.7738</text>
</g>
<rect x="1686" y="591" width="2" height="1" fill="#000"/>
<g shape-rendering="auto">
<line x1="-5" y1="685.5" x2="1685" y2="685.5" stroke="#c0c0c0" stroke-width="1" stroke-dasharray="3 3"/>
<line x1="-5" y1="736.5" x2="1685" y2="736.5" stroke="#c0c0c0" stroke-width="1" stroke-dasharray="3 3"/>
</g>
<polyline points="0.5,692.5 8.5,688.25 16.5,689.5 24.5,684.25 32.5,682 40.5,680 48.5,679.25 56.5,702.5 64.5,699.5 72.5,696.25 80.5,695 88.5,701.25 96.5,700 104.5,696 112.5,700.25 120.5,696.25 128.5,695 136.5,693 144.5,688.25 152.5,684.25 160.5,680 168.5,679 176.5,682.5 184.5,675.25 192.5,682.5 200.5,681.25 208.5,693.75 216.5,706.25 224.5,706.25 232.5,702 240.5,703.25 248.5,712.5 256.5,707 264.5,710.75 272.5,702.5 280.5,708 288.5,709.25 296.5,710.5 304.5,710.5 312.5,702.5 320.5,699.25 328.5,705 336.5,708.75 344.5,712.5 352.5,716.25 360.5,728 368.5,731.25 376.5,734.25 384.5,734.5 392.5,733 400.5,719.25 408.5,722.5 416.5,721.25 424.5,719.25 432.5,726.75 440.5,730.75 448.5,734.5 456.5,725 464.5,716.25 472.5,707 480.5,706.25 488.5,708.25 496.5,705 504.5,700.5 512.5,705.5 520.5,698.25 528.5,702.5 536.5,708.25 544.5,700.25 552.5,705.5 560.5,705.5 568.5,703.25 576.5,705.5 584.5,705.5 592.5,700.75 600.5,699.25 608.5,694.5 616.5,693 624.5,689.25 632.5,690.25 640.5,685.5 648.5,684.25 656.5,692 664.5,693.25 672.5,695.5 680.5,692.5 688.5,693.5 696.5,692.5 704.5,697.5 712.5,689.25 720.5,686.25 728.5,684.25 736.5,693.25 744.5,688.75 752.5,684.25 760.5,693.75 768.5,703.25 776.5,706.5 784.5,705.25 792.5,706.5 800.5,714.25 808.5,730.5 816.5,730.5 824.5,729.25 832.5,730.5 840.5,735.75 848.5,734.5 856.5,716.25 864.5,710.5 872.5,710.5 880.5,708 888.5,710 896.5,713.75 904.5,722.5 912.5,719.25 920.5,719.25 928.5,723.25 936.5,724.5 944.5,723.25 952.5,706.25 960.5,705.25 968.5,699.25 976.5,699.25 984.5,702.5 992.5,704.25 1000.5,708.25 1008.5,701.25 1016.5,704.5 1024.5,701.25 1032.5,699.25 1040.5,695 1048.5,699.25 1056.5,701.25 1064.5,702.5 1072.5,707.5 1080.5,701.25 1088.5,696.5 1096.5,698.5 1104.5,696.5 1112.5,696.5 1120.5,696.5 1128.5,695.25 1136.5,699.25 1144.5,700.5 1152.5,698.5 1160.5,698.5 1168.5,695.5 1176.5,693.25 1184.5,686.25 1192.5,696.5 1200.5,696.5 1208.5,696.5 1216.5,693.25 1224.5,701.25 1232.5,709.5 1240.5,705 1248.5,696.5 1256.5,708.25 1264.5,707.25 1272.5,704.5 1280.5,703.25 1288.5,700.25 1296.5,704.25 1304.5,699 1312.5,697.25 1320.5,699.25 1328.5,705.25 1336.5,701.25 1344.5,723.25 1352.5,729.25 1360.5,724.5 1368.5,730.5 1376.5,733.25 1384.5,733.25 1392.5,707.5 1400.5,704.5 1408.5,703.25 1416.5,711.25 1424.5,709.25 1432.5,713.25 1440.5,711.25 1448.5,704.5 1456.5,718.25 1464.5,719.5 1472.5,724.25 1480.5,720 1488.5,714.25 1496.5,704.5 1504.5,707.5 1512.5,704.5 1520.5,704.5 1528.5,701.25 1536.5,698.25 1544.5,702.25 1552.5,696.5 1560.5,695.25 1568.5,698.5 1576.5,698.5 1584.5,699.5 1592.5,696.5 1600.5,703.5 1608.5,703.5 1616.5,704.5 1624.5,712.5 1632.5,710.25 1640.5,705.5 1648.5,708.25 1656.5,708.25 1664.5,707.25" fill="none" stroke="#1e90ff" stroke-width="1" />
<g shape-rendering="auto">
<text x="4.3" y="659" font-size="10" fill="#000" text-anchor="start" textLength="67.7" lengthAdjust="spacingAndGlyphs" xml:space="preserve" stroke="#000" stroke-width="0.18">RSI(14) 52.9479</text>
<text x="1689.3" y="657" font-size="10" fill="#000" text-anchor="start" textLength="14.7" lengthAdjust="spacingAndGlyphs" xml:space="preserve" stroke="#000" stroke-width="0.18">100</text>
<text x="1688" y="689" font-size="10" fill="#000" text-anchor="start" textLength="9.7" lengthAdjust="spacingAndGlyphs" xml:space="preserve" stroke="#000" stroke-width="0.18">70</text>
<text x="1688" y="740" font-size="10" fill="#000" text-anchor="start" textLength="9.7" lengthAdjust="spacingAndGlyphs" xml:space="preserve" stroke="#000" stroke-width="0.18">30</text>
<text x="1689" y="771" font-size="10" fill="#000" text-anchor="start" textLength="4.7" lengthAdjust="spacingAndGlyphs" xml:space="preserve" stroke="#000" stroke-width="0.18">0</text>
</g>
<rect x="1686" y="773" width="1" height="1" fill="#000"/>
<g shape-rendering="auto">
<rect x="0" y="775" width="1" height="3" fill="#000"/>
<text x="-0.8" y="787" font-size="10" fill="#000" text-anchor="start" textLength="44.4" lengthAdjust="spacingAndGlyphs" xml:space="preserve" stroke="#000" stroke-width="0.18">2 Jun 2020</text>
<rect x="64" y="775" width="1" height="3" fill="#000"/>
<text x="63.2" y="787" font-size="10" fill="#000" text-anchor="start" textLength="47.4" lengthAdjust="spacingAndGlyphs" xml:space="preserve" stroke="#000" stroke-width="0.18">3 Jun 12:00</text>
<rect x="128" y="775" width="1" height="3" fill="#000"/>
<text x="127.2" y="787" font-size="10" fill="#000" text-anchor="start" textLength="47.4" lengthAdjust="spacingAndGlyphs" xml:space="preserve" stroke="#000" stroke-width="0.18">4 Jun 20:00</text>
<rect x="192" y="775" width="1" height="3" fill="#000"/>
<text x="191.2" y="787" font-size="10" fill="#000" text-anchor="start" textLength="47.4" lengthAdjust="spacingAndGlyphs" xml:space="preserve" stroke="#000" stroke-width="0.18">8 Jun 00:00</text>
<rect x="256" y="775" width="1" height="3" fill="#000"/>
<text x="255.2" y="787" font-size="10" fill="#000" text-anchor="start" textLength="47.4" lengthAdjust="spacingAndGlyphs" xml:space="preserve" stroke="#000" stroke-width="0.18">9 Jun 08:00</text>
<rect x="320" y="775" width="1" height="3" fill="#000"/>
<text x="319.2" y="787" font-size="10" fill="#000" text-anchor="start" textLength="52.4" lengthAdjust="spacingAndGlyphs" xml:space="preserve" stroke="#000" stroke-width="0.18">10 Jun 16:00</text>
<rect x="384" y="775" width="1" height="3" fill="#000"/>
<text x="383.2" y="787" font-size="10" fill="#000" text-anchor="start" textLength="52.4" lengthAdjust="spacingAndGlyphs" xml:space="preserve" stroke="#000" stroke-width="0.18">12 Jun 00:00</text>
<rect x="448" y="775" width="1" height="3" fill="#000"/>
<text x="447.2" y="787" font-size="10" fill="#000" text-anchor="start" textLength="52.4" lengthAdjust="spacingAndGlyphs" xml:space="preserve" stroke="#000" stroke-width="0.18">15 Jun 04:00</text>
<rect x="512" y="775" width="1" height="3" fill="#000"/>
<text x="511.2" y="787" font-size="10" fill="#000" text-anchor="start" textLength="52.4" lengthAdjust="spacingAndGlyphs" xml:space="preserve" stroke="#000" stroke-width="0.18">16 Jun 12:00</text>
<rect x="576" y="775" width="1" height="3" fill="#000"/>
<text x="575.2" y="787" font-size="10" fill="#000" text-anchor="start" textLength="52.4" lengthAdjust="spacingAndGlyphs" xml:space="preserve" stroke="#000" stroke-width="0.18">17 Jun 22:00</text>
<rect x="640" y="775" width="1" height="3" fill="#000"/>
<text x="639.2" y="787" font-size="10" fill="#000" text-anchor="start" textLength="52.4" lengthAdjust="spacingAndGlyphs" xml:space="preserve" stroke="#000" stroke-width="0.18">19 Jun 04:00</text>
<rect x="704" y="775" width="1" height="3" fill="#000"/>
<text x="703.2" y="787" font-size="10" fill="#000" text-anchor="start" textLength="52.4" lengthAdjust="spacingAndGlyphs" xml:space="preserve" stroke="#000" stroke-width="0.18">22 Jun 08:00</text>
<rect x="768" y="775" width="1" height="3" fill="#000"/>
<text x="767.2" y="787" font-size="10" fill="#000" text-anchor="start" textLength="52.4" lengthAdjust="spacingAndGlyphs" xml:space="preserve" stroke="#000" stroke-width="0.18">23 Jun 16:00</text>
<rect x="832" y="775" width="1" height="3" fill="#000"/>
<text x="831.2" y="787" font-size="10" fill="#000" text-anchor="start" textLength="52.4" lengthAdjust="spacingAndGlyphs" xml:space="preserve" stroke="#000" stroke-width="0.18">25 Jun 00:00</text>
<rect x="896" y="775" width="1" height="3" fill="#000"/>
<text x="895.2" y="787" font-size="10" fill="#000" text-anchor="start" textLength="52.4" lengthAdjust="spacingAndGlyphs" xml:space="preserve" stroke="#000" stroke-width="0.18">26 Jun 08:00</text>
<rect x="960" y="775" width="1" height="3" fill="#000"/>
<text x="959.2" y="787" font-size="10" fill="#000" text-anchor="start" textLength="52.4" lengthAdjust="spacingAndGlyphs" xml:space="preserve" stroke="#000" stroke-width="0.18">29 Jun 12:00</text>
<rect x="1024" y="775" width="1" height="3" fill="#000"/>
<text x="1023.2" y="787" font-size="10" fill="#000" text-anchor="start" textLength="52.4" lengthAdjust="spacingAndGlyphs" xml:space="preserve" stroke="#000" stroke-width="0.18">30 Jun 20:00</text>
<rect x="1088" y="775" width="1" height="3" fill="#000"/>
<text x="1087.2" y="787" font-size="10" fill="#000" text-anchor="start" textLength="44.4" lengthAdjust="spacingAndGlyphs" xml:space="preserve" stroke="#000" stroke-width="0.18">2 Jul 04:00</text>
<rect x="1152" y="775" width="1" height="3" fill="#000"/>
<text x="1151.2" y="787" font-size="10" fill="#000" text-anchor="start" textLength="44.4" lengthAdjust="spacingAndGlyphs" xml:space="preserve" stroke="#000" stroke-width="0.18">3 Jul 12:00</text>
<rect x="1216" y="775" width="1" height="3" fill="#000"/>
<text x="1215.2" y="787" font-size="10" fill="#000" text-anchor="start" textLength="44.4" lengthAdjust="spacingAndGlyphs" xml:space="preserve" stroke="#000" stroke-width="0.18">6 Jul 20:00</text>
<rect x="1280" y="775" width="1" height="3" fill="#000"/>
<text x="1279.2" y="787" font-size="10" fill="#000" text-anchor="start" textLength="44.4" lengthAdjust="spacingAndGlyphs" xml:space="preserve" stroke="#000" stroke-width="0.18">8 Jul 04:00</text>
<rect x="1344" y="775" width="1" height="3" fill="#000"/>
<text x="1343.2" y="787" font-size="10" fill="#000" text-anchor="start" textLength="44.4" lengthAdjust="spacingAndGlyphs" xml:space="preserve" stroke="#000" stroke-width="0.18">9 Jul 12:00</text>
<rect x="1408" y="775" width="1" height="3" fill="#000"/>
<text x="1407.2" y="787" font-size="10" fill="#000" text-anchor="start" textLength="49.4" lengthAdjust="spacingAndGlyphs" xml:space="preserve" stroke="#000" stroke-width="0.18">10 Jul 20:00</text>
<rect x="1472" y="775" width="1" height="3" fill="#000"/>
<text x="1471.2" y="787" font-size="10" fill="#000" text-anchor="start" textLength="49.4" lengthAdjust="spacingAndGlyphs" xml:space="preserve" stroke="#000" stroke-width="0.18">14 Jul 00:00</text>
<rect x="1536" y="775" width="1" height="3" fill="#000"/>
<text x="1535.2" y="787" font-size="10" fill="#000" text-anchor="start" textLength="49.4" lengthAdjust="spacingAndGlyphs" xml:space="preserve" stroke="#000" stroke-width="0.18">15 Jul 08:00</text>
<rect x="1600" y="775" width="1" height="3" fill="#000"/>
<text x="1599.2" y="787" font-size="10" fill="#000" text-anchor="start" textLength="49.4" lengthAdjust="spacingAndGlyphs" xml:space="preserve" stroke="#000" stroke-width="0.18">16 Jul 16:00</text>
<rect x="1664" y="775" width="1" height="3" fill="#000"/>
<text x="1663.2" y="787" font-size="10" fill="#000" text-anchor="start" textLength="49.4" lengthAdjust="spacingAndGlyphs" xml:space="preserve" stroke="#000" stroke-width="0.18">19 Jul 23:00</text>
</g>
</svg>
</body></html>
